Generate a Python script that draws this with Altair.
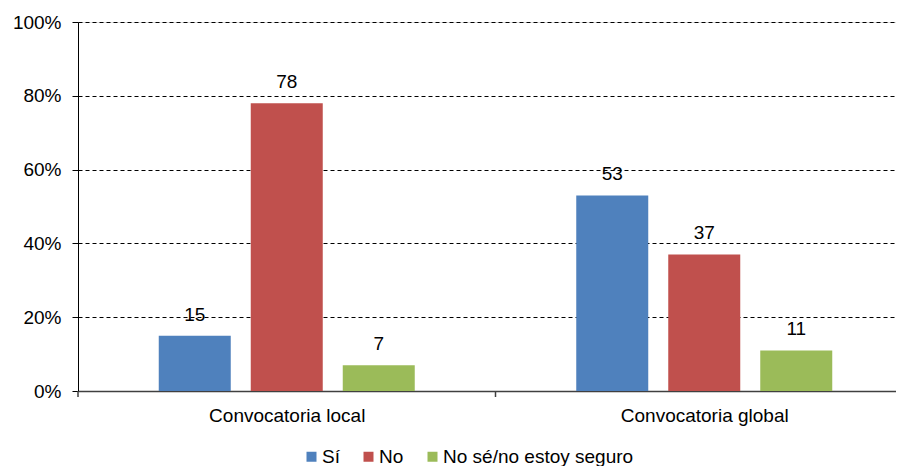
import altair as alt
import pandas as pd

categories = ["Convocatoria local", "Convocatoria global"]
series = ["Sí", "No", "No sé/no estoy seguro"]
si = [15, 53]
no = [78, 37]
no_se = [7, 11]
colors = ["#4F81BD", "#C0504D", "#9BBB59"]
y_ticks = [0, 20, 40, 60, 80, 100]

rows = []
for i, c in enumerate(categories):
    for j, (s, vals) in enumerate(zip(series, [si, no, no_se])):
        rows.append({"ci": i, "cat": c, "sj": j, "serie": s, "valor": vals[i]})
df = pd.DataFrame(rows)

FONT = "Liberation Sans"
FS = 19
PLOT_W = 818
PLOT_H = 369
STEP = 417.5          # pixel width of one category band
BAR_W = 72
BAR_GAP = 20

xscale = alt.Scale(domain=[0, PLOT_W / STEP], nice=False, zero=False)

base = alt.Chart(df).transform_calculate(
    x0=f"datum.ci + 0.5 + (datum.sj - 1) * {(BAR_W + BAR_GAP) / STEP} - {BAR_W / 2 / STEP}",
    x1=f"datum.ci + 0.5 + (datum.sj - 1) * {(BAR_W + BAR_GAP) / STEP} + {BAR_W / 2 / STEP}",
    xm=f"datum.ci + 0.5 + (datum.sj - 1) * {(BAR_W + BAR_GAP) / STEP}",
)

y = alt.Y(
    "valor:Q",
    scale=alt.Scale(domain=[0, 100], nice=False),
    axis=alt.Axis(
        values=y_ticks, title=None, labelExpr="datum.value + '%'", grid=True,
        gridDash=[4, 3], gridColor="black", gridWidth=1, domainColor="black",
        tickColor="black", tickSize=6, labelFontSize=FS, labelFont=FONT,
        labelColor="black", labelPadding=11,
    ),
)
color = alt.Color(
    "serie:N", sort=series,
    scale=alt.Scale(domain=series, range=colors),
    legend=alt.Legend(
        title=None, orient="none", direction="horizontal", legendX=224, legendY=425,
        symbolType="square", symbolSize=100, symbolStrokeWidth=0,
        labelFontSize=FS, labelFont=FONT, labelColor="black", labelOffset=1,
        columnPadding=19, labelLimit=400,
    ),
)

bars = base.mark_bar().encode(
    x=alt.X(
        "x0:Q", scale=xscale,
        axis=alt.Axis(
            title=None, values=[0.5, 1.5],
            labelExpr="datum.value < 1 ? 'Convocatoria local' : 'Convocatoria global'",
            ticks=False, grid=False, domainColor="#404040", domainWidth=1.5,
            labelFontSize=FS, labelFont=FONT, labelColor="black", labelPadding=15,
        ),
    ),
    x2="x1:Q", y=y, y2=alt.datum(0), color=color,
)
labels = base.mark_text(dy=-21, fontSize=FS, font=FONT, color="black", baseline="middle").encode(
    x=alt.X("xm:Q", scale=xscale), y=y, text="valor:Q"
)

div_df = pd.DataFrame({"ci": list(range(len(categories)))})
dividers = alt.Chart(div_df).mark_rule(color="#404040", strokeWidth=1.5).encode(
    x=alt.X("ci:Q", scale=xscale), y=alt.value(PLOT_H), y2=alt.value(PLOT_H + 6)
)

chart = alt.layer(bars, labels, dividers).properties(
    width=PLOT_W, height=PLOT_H,
    autosize=alt.AutoSizeParams(type="none"),
    padding={"left": 70, "top": 14, "right": 0, "bottom": 75},
).configure_view(stroke=None).configure(font=FONT)

chart.save("out.html", embed_options={"renderer": "svg", "actions": False})
